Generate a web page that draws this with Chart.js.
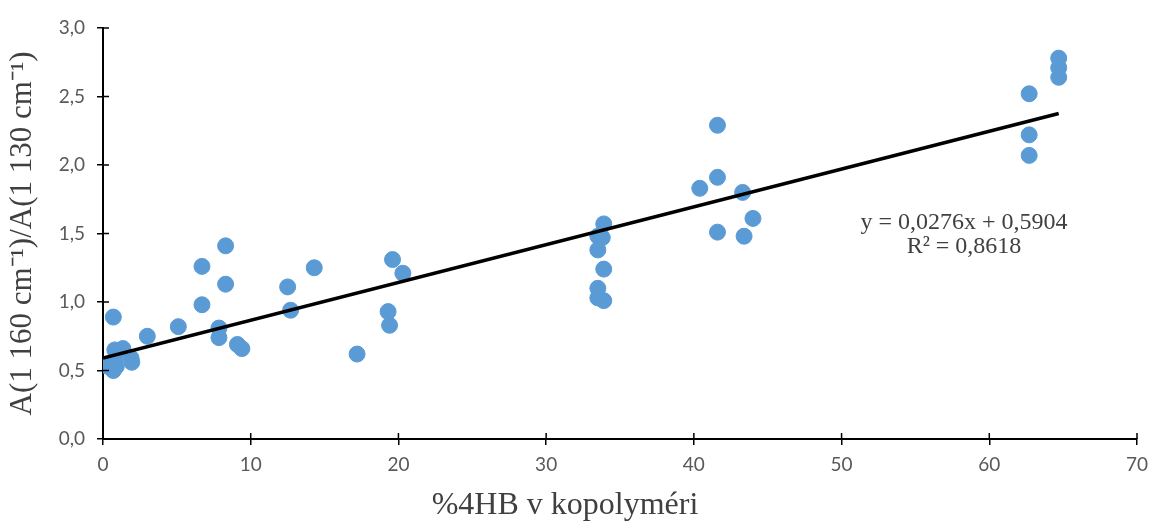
<!DOCTYPE html>
<html>
<head>
<meta charset="utf-8">
<script src="https://cdn.jsdelivr.net/npm/chart.js@4.4.0/dist/chart.umd.min.js"></script>
<style>
  body { margin: 0; background: #fff; }
  #wrap { width: 1152px; height: 525px; }
</style>
</head>
<body>
<div id="wrap"><canvas id="chart" width="1152" height="525"></canvas></div>
<script>
// %4HB in copolymer and absorbance ratio
const hbPercent = [
  0.7, 0, 0.8, 1.35, 0.8, 0.7, 0.9, 1.9, 1.95, 0.35,
  3.0, 5.1, 6.7, 6.7, 8.3, 8.3, 7.85, 7.85, 9.1, 9.4,
  12.5, 12.7, 14.3, 17.2, 19.3, 19.4, 19.6, 20.3,
  33.9, 33.5, 33.8, 33.5, 33.9, 33.5, 33.5, 33.9,
  41.6, 41.6, 40.4, 43.3, 44.0, 41.6, 43.4,
  62.7, 62.7, 62.7, 64.7, 64.7, 64.7
];
const absRatio = [
  0.89, 0.54, 0.65, 0.66, 0.58, 0.50, 0.53, 0.59, 0.56, 0.53,
  0.75, 0.82, 1.26, 0.98, 1.41, 1.13, 0.81, 0.74, 0.69, 0.66,
  1.11, 0.94, 1.25, 0.62, 0.93, 0.83, 1.31, 1.21,
  1.57, 1.48, 1.47, 1.38, 1.24, 1.10, 1.03, 1.01,
  2.29, 1.91, 1.83, 1.80, 1.61, 1.51, 1.48,
  2.52, 2.22, 2.07, 2.78, 2.71, 2.64
];

// linear trend from the equation printed on the chart
const slope = 0.0276;
const intercept = 0.5904;
const trendX = [0, 64.7];
const equationLines = ['y = 0,0276x + 0,5904', 'R\u00B2 = 0,8618'];

const xTitle = '%4HB v kopolyméri';
const yTitle = 'A(1 160 cm\u207B\u00B9)/A(1 130 cm\u207B\u00B9)';

const points = hbPercent.map((x, i) => ({ x: x, y: absRatio[i] }));
const trendPoints = trendX.map(x => ({ x: x, y: slope * x + intercept }));

// ticks that cross the axis line (inner half)
const innerTicks = {
  id: 'innerTicks',
  afterDraw(chart) {
    const ctx = chart.ctx;
    const xs = chart.scales.x, ys = chart.scales.y;
    ctx.save();
    ctx.strokeStyle = '#000';
    ctx.lineWidth = 1.5;
    ctx.beginPath();
    xs.ticks.forEach(t => {
      const px = xs.getPixelForValue(t.value);
      ctx.moveTo(px, ys.bottom);
      ctx.lineTo(px, ys.bottom - 6);
    });
    ys.ticks.forEach(t => {
      const py = ys.getPixelForValue(t.value);
      ctx.moveTo(xs.left, py);
      ctx.lineTo(xs.left + 6, py);
    });
    ctx.stroke();
    ctx.restore();
  }
};

// regression equation and x axis title (title sits left of the plot centre)
const textLabels = {
  id: 'textLabels',
  afterDraw(chart) {
    const ctx = chart.ctx;
    ctx.save();
    ctx.fillStyle = '#404040';
    ctx.textAlign = 'center';
    ctx.textBaseline = 'middle';
    ctx.font = '24px "Liberation Serif", serif';
    ctx.fillText(equationLines[0], 964, 223);
    ctx.fillText(equationLines[1], 964, 247);
    ctx.font = '32px "Liberation Serif", serif';
    ctx.fillText(xTitle, 565, 506);
    ctx.restore();
  }
};

const ctx = document.getElementById('chart').getContext('2d');
new Chart(ctx, {
  type: 'scatter',
  data: {
    datasets: [
      {
        label: 'data',
        data: points,
        backgroundColor: '#5B9BD5',
        borderColor: '#5B9BD5',
        pointRadius: 8,
        pointHoverRadius: 8,
        order: 2
      },
      {
        type: 'line',
        label: 'trend',
        data: trendPoints,
        borderColor: '#000',
        borderWidth: 3.5,
        pointRadius: 0,
        fill: false,
        order: 1
      }
    ]
  },
  options: {
    responsive: false,
    animation: false,
    layout: { padding: { top: 28, right: 15, left: 0, bottom: 0 } },
    plugins: {
      legend: { display: false },
      tooltip: { enabled: false }
    },
    scales: {
      x: {
        type: 'linear',
        min: 0,
        max: 70,
        ticks: {
          stepSize: 10,
          color: '#595959',
          font: { family: 'Lato', size: 19 },
          padding: 8
        },
        grid: { drawOnChartArea: false, color: '#000', tickLength: 6, lineWidth: 1.5 },
        border: { color: '#000', width: 2 },
        afterFit(scale) {
          scale.height = 86;
          scale.paddingLeft = 0;
          scale.paddingRight = 0;
        }
      },
      y: {
        min: 0,
        max: 3,
        ticks: {
          stepSize: 0.5,
          color: '#595959',
          font: { family: 'Lato', size: 19 },
          padding: 12,
          callback: v => v.toFixed(1).replace('.', ',')
        },
        grid: { drawOnChartArea: false, color: '#000', tickLength: 6, lineWidth: 1.5 },
        border: { color: '#000', width: 2 },
        title: {
          display: true,
          text: yTitle,
          color: '#404040',
          font: { family: '"Liberation Serif"', size: 31 },
          padding: { bottom: 0 }
        },
        afterFit(scale) { scale.width = 103; }
      }
    }
  },
  plugins: [innerTicks, textLabels]
});
</script>
</body>
</html>
